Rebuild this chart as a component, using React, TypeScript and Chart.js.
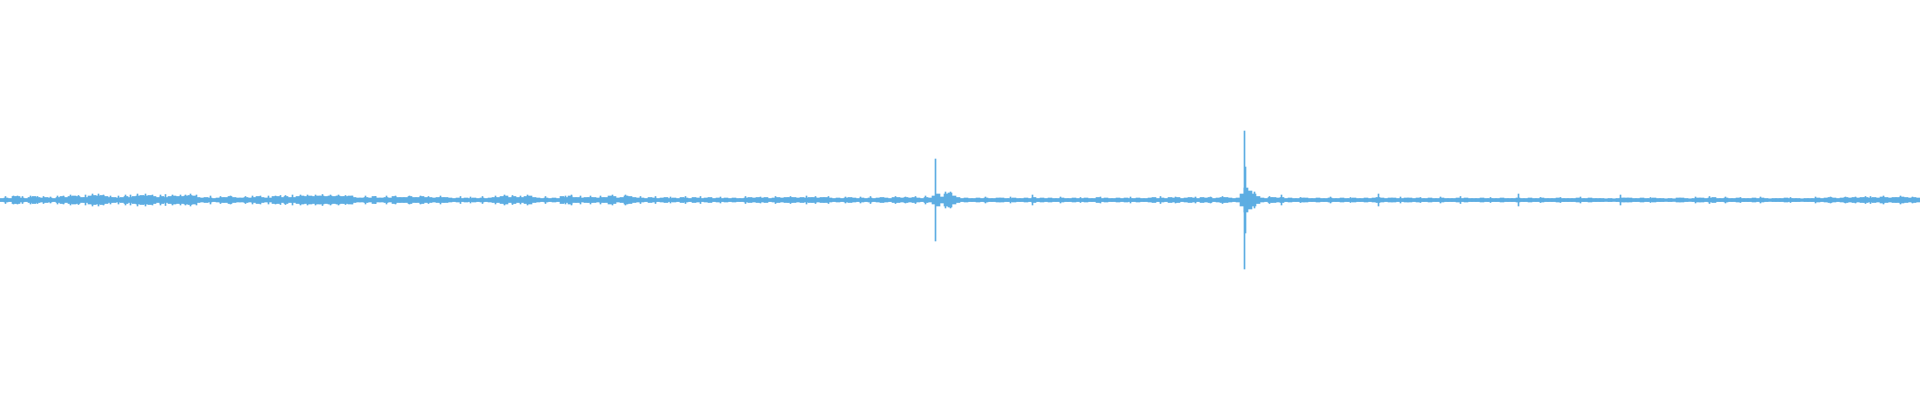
import { useEffect, useRef } from "react";
import { Chart, registerables } from "chart.js";

Chart.register(...registerables);

// Body envelope of the waveform: half-height per 4-sample bucket, six segments of 80 buckets
const seg0 = [1.5,2,1.5,3.5,3.5,2,1.5,2.5,3.5,2.5,2,2.5,2,1.5,2.5,3.5,2.5,3.5,4,3.5, 2.5,2.5,4,4.5,4,4.5,3.5,2.5,2.5,2,2.5,3.5,2.5,3.5,4,4.5,4,4.5,3.5,2.5, 3.5,2.5,3.5,4,3.5,3.5,4,4.5,4,2.5,2,2.5,2,1.5,2,2.5,2.5,3.5,2.5,2, 2,2.5,2,2.5,3.5,2.5,2,2,3.5,3.5,2.5,3.5,2.5,2.5,3.5,4,3.5,4,3.5,4];
const seg1 = [4,3.5,4,3.5,4,3.5,3.5,4,2.5,2,2,2.5,2,3.5,2,2,2.5,2,3.5,2.5, 2.5,2.5,3.5,2.5,2.5,3.5,2.5,2.5,2,2.5,2.5,2.5,2,1.5,2,1.5,2,1.5,2,1.5, 2,1.5,2,2.5,2.5,3.5,4,2.5,3.5,2.5,2.5,3.5,4,2.5,2,1.5,2,1.5,2,1.5, 3.5,2.5,4,2.5,2.5,2,2.5,2.5,2.5,2,2.5,2.5,4,3.5,2,2.5,4,3.5,2.5,2];
const seg2 = [2,1.5,2.5,2,1.5,2,2.5,1.5,2,1.5,2.5,2,1.5,2.5,2,1.5,2,2.5,1.5,2, 1.5,2,1.5,2,1.5,1.5,2,2.5,2,2.5,2,2.5,1.5,2,2.5,2,2.5,2.5,2.5,2, 2.5,2,2.5,2.5,2,2.5,2.5,2,1.5,2,1.5,2,2.5,2,1.5,2,1.5,2,1.5,2, 2.5,2,1.5,2.5,2.5,2,2.5,2,2.5,2,1.5,2.5,2,4,6,3,6,7,4,2.5];
const seg3 = [1.5,2,1.5,1.5,2,1.5,2,1.5,1.5,2,2,1.5,1.5,2,1.5,1.5,2,1.5,2.5,1.5, 2,1.5,2,1.5,1.5,2,1.5,1.5,2,1.5,1.5,2,1.5,1.5,2.5,1.5,2,1.5,1.5,2, 1.5,2,1.5,1.5,2,1.5,1.5,2,2.5,1.5,2,1.5,2.5,2,2.5,1.5,2,2.5,2,1.5, 2.5,2,2.5,1.5,2,2.5,2.5,2,1.5,2,6,12,9,6,3.5,2,1.5,2.5,2.5,2];
const seg4 = [2.5,1.5,2,1.5,1.5,2,2,1.5,1.5,2,1.5,1.5,2,1.5,1.5,2,1.5,1.5,2,1.5, 1.5,2,1.5,2,2.5,2,1.5,2,2,1.5,1.5,2,2,1.5,2,1.5,1.5,2,1.5,1.5, 2,1.5,1.5,1.5,2,1.5,2,1.5,1.5,1.5,2,1.5,1.5,1.5,1.5,2,1.5,1.5,1.5,2, 1.5,1.5,2,1.5,1.5,2,1.5,1.5,1.5,2,1.5,1.5,1.5,1.5,2,1.5,1.5,2,1.5,1.5];
const seg5 = [1.5,1.2,1.5,1.2,1.5,2,2,2,1.5,1.5,2,1.5,1.5,2,1.5,1.5,1.2,1.5,1.2,2, 2,1.5,1.2,1.5,2,2,1.5,2,2.5,1.5,1.5,2,1.5,1.5,2,1.5,1.5,1.5,2,1.5, 2,1.5,1.2,1.5,1.5,1.5,2,1.5,1.5,1.5,1.2,1.5,1.5,1.5,2,1.5,2,2.5,2,1.5, 2,2.5,2,2.5,2,2.5,2.5,2,2.5,2,3,2.5,2,2.5,2.5,3,2.5,2,2.5,2];

const bodyAmp = [...seg0, ...seg1, ...seg2, ...seg3, ...seg4, ...seg5];
const bucketSize = 4; // samples per body bucket
const sampleCount = 1920;

// Individual sharp peaks: sample position and half-height
const peakX = [
  5,13,17,22,30,37,43,50,57,63,
  70,78,85,92,98,103,110,118,125,130,
  137,145,152,160,165,172,180,185,190,196,
  210,220,230,245,252,260,268,275,280,285,
  292,300,307,315,322,330,338,345,352,365,
  375,386,395,409,420,428,440,460,470,482,
  495,504,512,520,527,545,565,571,580,590,
  600,612,625,640,655,670,685,700,720,745,
  760,775,790,806,815,828,845,860,870,895,
  905,915,925,935,945,950,985,1010,1032,1060,
  1080,1100,1130,1160,1175,1195,1210,1222,1244,1245,
  1254,1269,1281,1300,1330,1350,1378,1400,1420,1440,
  1460,1490,1518,1540,1560,1580,1620,1650,1695,1709,
  1725,1740,1760,1790,1815,1830,1845,1855,1865,1870,
  1883,1900,1912,
];
const peakAmp = [
  3.5,4,4,3.5,4,3.5,3.5,3,4,4,
  5,4.5,5,6,6,5,4,4,5,5,
  6,6,5,5,5.5,5,5,5,6,5,
  4,3.5,4,3.5,4,4,4,4,4.5,4.5,
  5,5,5,5,5.5,5,5,4.5,4,4,
  3.5,4,4,4,4,3.5,4,3.5,3,3.5,
  4,5,4.5,4,5,3.5,4,5,4,4,
  4,5,5,3.5,3.5,3,3.5,3.5,3,3.5,
  3,3.5,3.5,4,3.5,3.5,3,3,3.5,3.5,
  3,3.5,4,41,8,8,3,3,5,3,
  2.5,3,3,3.5,3,3,3,3.5,69,33,
  8,3.5,5,2.5,3,2.5,6,3,2.5,3,
  3.5,2.5,6,2.5,2.5,3,5,2.5,3,3.5,
  3,2.5,3,2.5,3,3,3,3,3.5,3.5,
  4,4,3,
];

const yRange = [-200, 0, 200];
const WAVE = "rgb(93,173,226)";

export default function App() {
  const ref = useRef<HTMLCanvasElement | null>(null);

  useEffect(() => {
    if (!ref.current) return;
    const bodyData = bodyAmp.map((a, i) => ({
      x: i * bucketSize + (bucketSize - 1) / 2,
      y: [-a, a],
    }));
    const peakData = peakX.map((x, i) => ({ x, y: [-peakAmp[i], peakAmp[i]] }));
    const chart = new Chart(ref.current, {
      type: "bar",
      data: {
        datasets: [
          {
            data: bodyData as any,
            backgroundColor: WAVE,
            borderWidth: 0,
            borderSkipped: false,
            barThickness: bucketSize,
            stack: "wave",
          } as any,
          {
            data: peakData as any,
            backgroundColor: WAVE,
            borderWidth: 0,
            borderSkipped: false,
            barThickness: 1,
            stack: "wave",
          } as any,
        ],
      },
      options: {
        animation: false,
        responsive: true,
        maintainAspectRatio: false,
        layout: { padding: 0 },
        plugins: { legend: { display: false }, tooltip: { enabled: false } },
        scales: {
          x: {
            type: "linear",
            display: false,
            offset: false,
            min: -0.5,
            max: sampleCount - 0.5,
          },
          y: {
            display: true,
            stacked: false,
            min: yRange[0],
            max: yRange[2],
            afterBuildTicks: (s: any) => {
              s.ticks = yRange.map((v) => ({ value: v }));
            },
            ticks: { display: false },
            border: { display: false },
            grid: {
              drawTicks: false,
              tickLength: 0,
              color: (ctx: any) =>
                ctx.tick && ctx.tick.value === 0 ? WAVE : "rgba(0,0,0,0)",
              lineWidth: 2.6,
            },
            afterFit: (s: any) => {
              s.width = 0;
            },
          },
        },
      },
    });
    return () => chart.destroy();
  }, []);

  return (
    <div style={{ position: "fixed", left: 0, top: 0, width: 1920, height: 400 }}>
      <canvas ref={ref} />
    </div>
  );
}
